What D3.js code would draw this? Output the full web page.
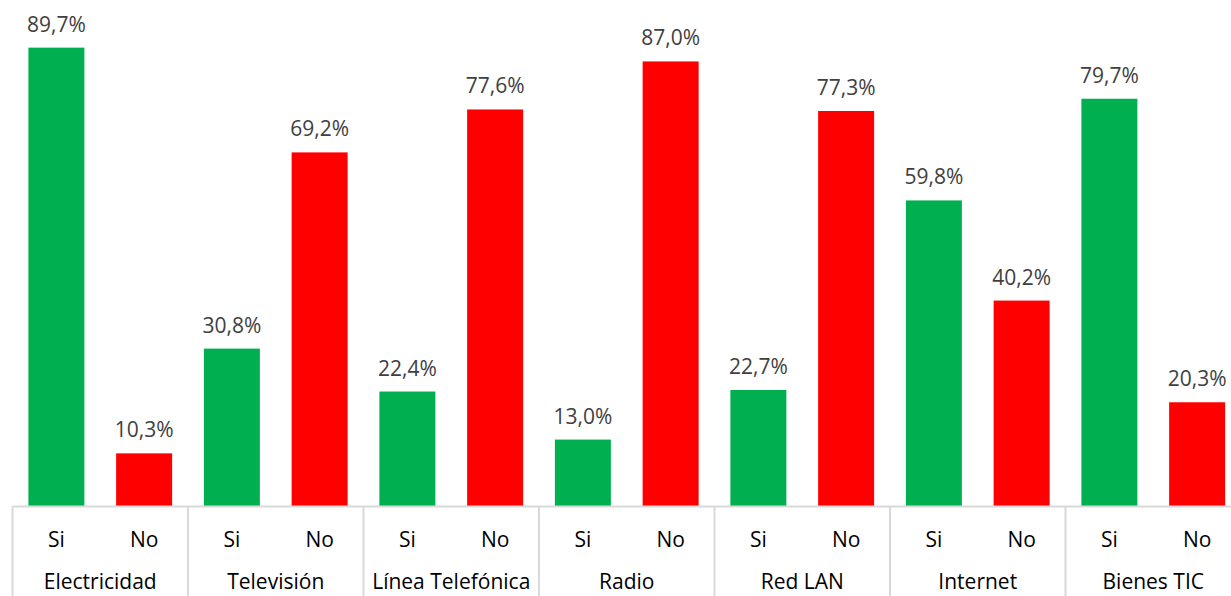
<!DOCTYPE html>
<html><head><meta charset="utf-8">
<script src="https://cdn.jsdelivr.net/npm/d3@7"></script>
<style>body{margin:0;background:#fff;overflow:hidden}svg{display:block}text{font-family:"Open Sans",sans-serif;fill:#404040}</style>
</head><body><svg id="c" width="1231" height="596"></svg>
<script>
const groups = ["Electricidad","Televisión","Línea Telefónica","Radio","Red LAN","Internet","Bienes TIC"];
const answers = ["Si","No"];
const siValues = [89.7,30.8,22.4,13.0,22.7,59.8,79.7];
const noValues = [10.3,69.2,77.6,87.0,77.3,40.2,20.3];
const colors = {Si:"#00b050", No:"#ff0000"};

const svg = d3.select("#c");
const left = 12.5, groupW = 175.5, base = 506;
const x0 = d3.scaleBand().domain(groups).range([left, left + groupW*groups.length]).padding(0);
const x1 = d3.scaleBand().domain(answers).range([0, groupW]).paddingInner(0.362).paddingOuter(0.181);
const y = d3.scaleLinear().domain([0,100]).range([base, base - 511]);

const data = [];
groups.forEach((g,i)=>{ data.push({g,a:"Si",v:siValues[i]}); data.push({g,a:"No",v:noValues[i]}); });

const fmt = v => v.toFixed(1).replace(".", ",") + "%";

svg.selectAll("rect.bar").data(data).join("rect")
  .attr("x", d => x0(d.g) + x1(d.a))
  .attr("width", x1.bandwidth())
  .attr("y", d => y(d.v))
  .attr("height", d => base - y(d.v))
  .attr("fill", d => colors[d.a]);

svg.selectAll("text.val").data(data).join("text")
  .attr("x", d => x0(d.g) + x1(d.a) + x1.bandwidth()/2)
  .attr("y", d => y(d.v) - 16)
  .attr("text-anchor","middle")
  .style("font-size","21px")
  .text(d => fmt(d.v));

// axis lines
const grid = "#d9d9d9";
svg.append("line").attr("x1", left).attr("x2", left + groupW*groups.length)
  .attr("y1", base+0.5).attr("y2", base+0.5).attr("stroke", grid).attr("stroke-width",2);
const seps = groups.map(g => x0(g)).concat([left + groupW*groups.length]);
svg.selectAll("line.sep").data(seps).join("line")
  .attr("x1", d=>d).attr("x2", d=>d).attr("y1", base).attr("y2", 596)
  .attr("stroke", grid).attr("stroke-width",2);

svg.selectAll("text.ans").data(data).join("text")
  .attr("x", d => x0(d.g) + x1(d.a) + x1.bandwidth()/2)
  .attr("y", 547)
  .attr("text-anchor","middle")
  .style("font-size","21px")
  .style("fill","#000")
  .text(d => d.a);

svg.selectAll("text.grp").data(groups).join("text")
  .attr("x", d => x0(d) + groupW/2)
  .attr("y", 589)
  .attr("text-anchor","middle")
  .style("font-size","21px")
  .style("fill","#000")
  .text(d => d);
</script></body></html>
